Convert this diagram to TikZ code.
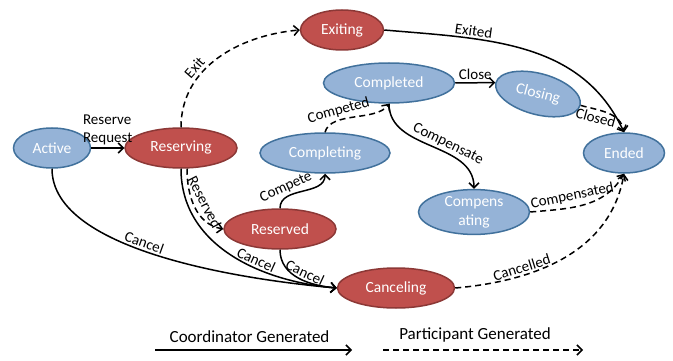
\documentclass[tikz,border=0pt]{standalone}
\usepackage{fontspec}
\setmainfont{Carlito}
\usetikzlibrary{shapes.geometric,arrows.meta}
\definecolor{bluefill}{HTML}{95B3D7}
\definecolor{blueline}{HTML}{41719C}
\definecolor{redfill}{HTML}{C0504D}
\definecolor{redline}{HTML}{8C3836}
\tikzset{
  state/.style={ellipse, draw=blueline, fill=bluefill, text=white,
    inner sep=0pt, minimum height=40pt, font=\fontsize{15.5}{19}\selectfont},
  redstate/.style={state, draw=redline, fill=redfill},
  lbl/.style={font=\fontsize{15}{18}\selectfont, inner sep=2pt},
  ptcp/.style={dash pattern=on 6pt off 4pt},
  legend/.style={font=\fontsize{17}{20}\selectfont, inner sep=2pt}
}
\begin{document}
\begin{tikzpicture}[x=1pt, y=1pt, line width=1.5pt,
    >={Straight Barb[length=5pt,width=10pt]}]
  \useasboundingbox (0,0) rectangle (673,-361);
  % states
  \node [state, minimum width=77pt] (active) at (52,-148) {Active};
  \node [redstate, minimum width=112pt] (reserving) at (181,-148) {Reserving};
  \node [redstate, minimum width=83pt] (exiting) at (342,-30) {Exiting};
  \node [state, minimum width=131pt] (completed) at (389,-83) {Completed};
  \node [state, minimum width=87pt, minimum height=41pt, rotate=-15] (closing)
    at (538,-94) {Closing};
  \node [state, minimum width=81pt] (ended) at (624,-153) {Ended};
  \node [state, minimum width=130pt] (completing) at (325,-153) {Completing};
  \node [redstate, minimum width=112pt] (reserved) at (280,-229) {Reserved};
  \node [state, minimum width=111pt, align=center] (compensating)
    at (474,-212) {Compens\\ating};
  \node [redstate, minimum width=117pt] (canceling) at (396,-288) {Canceling};
  % coordinator generated
  \draw [->] (active) -- node [lbl, above, align=left] {Reserve\\Request}
    (reserving);
  \draw [->] (exiting.east) to [out=-5, in=115]
    node [lbl, above, sloped, pos=.3] {Exited} (ended.north);
  \draw [->] (completed.east) -- node [lbl, above] {Close} (closing.west);
  \draw [->] (completed.south) to [out=-90, in=90]
    node [lbl, above, sloped, pos=.6] {Compensate} (compensating.north);
  \draw [->] (reserved.north) to [out=90, in=-90]
    node [lbl, above, sloped, pos=.3] {Compete} (completing.south);
  \draw [->] (active.south) to [out=-90, in=175, looseness=.7]
    node [lbl, above, sloped, pos=.44] {Cancel} (canceling.west);
  \draw [->] (reserving.south) to [out=-90, in=175]
    node [lbl, above, sloped, pos=.62] {Cancel} (canceling.west);
  \draw [->] (reserved.south) to [out=-90, in=175]
    node [lbl, above, sloped, pos=.55] {Cancel} (canceling.west);
  % participant generated
  \draw [->, ptcp] (reserving.north) to [out=90, in=185]
    node [lbl, above=1pt, sloped, pos=.36] {Exit} (exiting.west);
  \draw [->, ptcp] (closing.east) to [out=-15, in=100]
    node [lbl, below, sloped, pos=.3] {Closed} (ended.north);
  \draw [->, ptcp] (completing.north) to [out=75, in=-125, looseness=.8]
    node [lbl, above, sloped, pos=.33] {Competed} (completed.south);
  \draw [->, ptcp] ([xshift=6pt]reserving.south) to [out=-90, in=170]
    node [lbl, above=3pt, sloped, pos=.5] {Reserved} (reserved.west);
  \draw [->, ptcp] (compensating.east) to [out=5, in=-120]
    node [lbl, above=2pt, sloped, pos=.4] {Compensated} (ended.south);
  \draw [->, ptcp] (canceling.east) to [out=5, in=-100]
    node [lbl, above, sloped, pos=.3] {Cancelled} (ended.south);
  % legend
  \coordinate (coordA) at (155,-350);
  \coordinate (coordB) at (352,-350);
  \coordinate (partA) at (383,-350);
  \coordinate (partB) at (583,-350);
  \draw [->] (coordA) -- node [legend, above=5pt, pos=.48]
    {Coordinator Generated} (coordB);
  \draw [->, ptcp] (partA) -- node [legend, above=5pt, pos=.46]
    {Participant Generated} (partB);
\end{tikzpicture}
\end{document}
